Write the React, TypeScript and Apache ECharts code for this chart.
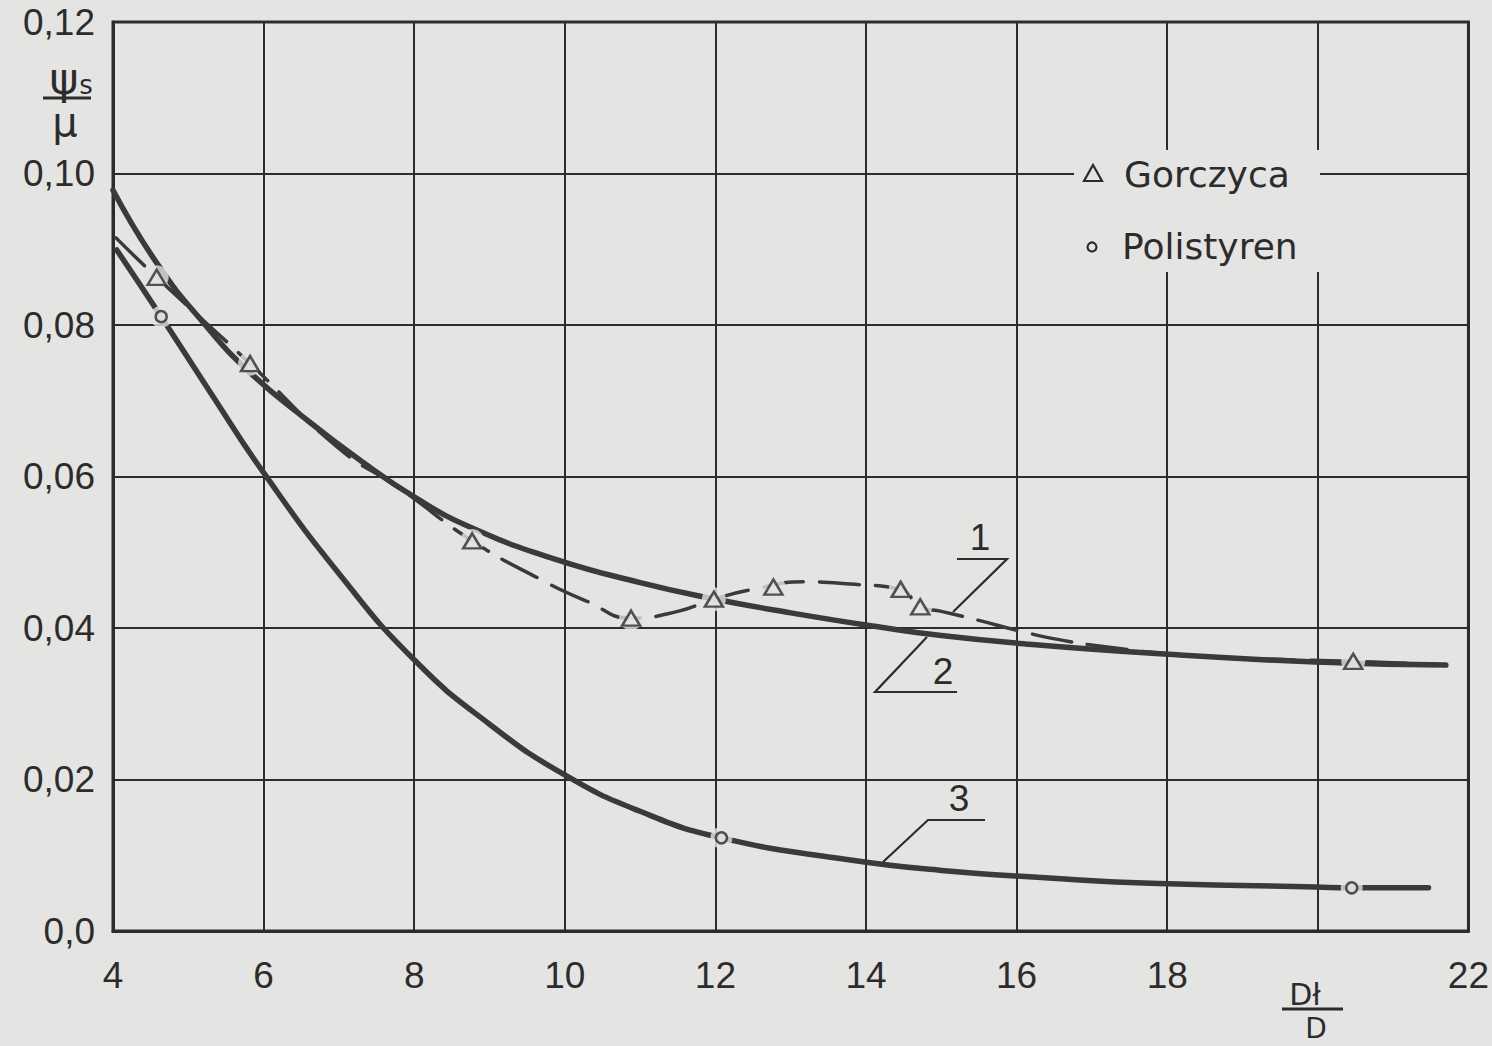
import React, { useEffect, useRef } from "react";
import * as echarts from "echarts";

// Axis ticks
const xTicks = [4, 6, 8, 10, 12, 14, 16, 18, 20, 22];
const xHiddenTick = 20;
const yTicks = [0, 0.02, 0.04, 0.06, 0.08, 0.1, 0.12];

// Measured points – Gorczyca (triangles)
const gorczycaPoints: [number, number][] = [
  [4.58, 0.0863],
  [5.82, 0.0749],
  [8.77, 0.0515],
  [10.88, 0.0413],
  [11.98, 0.0438],
  [12.77, 0.0454],
  [14.46, 0.0451],
  [14.72, 0.0428],
  [20.47, 0.0356],
];

// Measured points – Polistyren (circles)
const polistyrenPoints: [number, number][] = [
  [4.64, 0.0811],
  [12.08, 0.0123],
  [20.45, 0.0057],
];

// Curve 1 – course through the Gorczyca measurements (dashed)
const curve1: [number, number][] = [
  [4.04, 0.0915],
  [4.58, 0.0863],
  [5.82, 0.0749],
  [7.0, 0.0637],
  [7.8, 0.0585],
  [8.77, 0.0515],
  [9.7, 0.0463],
  [10.3, 0.0435],
  [10.88, 0.0413],
  [11.5, 0.0422],
  [11.98, 0.0438],
  [12.5, 0.0451],
  [13.2, 0.0461],
  [13.8, 0.0458],
  [14.46, 0.0451],
  [14.72, 0.0428],
  [15.0, 0.0422],
  [15.5, 0.041],
  [16.0, 0.0397],
  [16.6, 0.0384],
  [17.2, 0.0375],
  [18.0, 0.0366],
  [19.0, 0.036],
  [20.47, 0.0356],
  [21.7, 0.0351],
];

// Curve 2 – smoothed relation for Gorczyca
const curve2: [number, number][] = [
  [4.0, 0.0978],
  [4.6, 0.0879],
  [5.2, 0.0803],
  [5.8, 0.0739],
  [6.57, 0.0675],
  [7.3, 0.062],
  [8.0, 0.0573],
  [8.77, 0.0532],
  [9.9, 0.049],
  [11.0, 0.046],
  [11.9, 0.044],
  [13.0, 0.042],
  [14.2, 0.0401],
  [15.0, 0.039],
  [16.0, 0.038],
  [17.75, 0.0367],
  [19.97, 0.0355],
  [21.7, 0.0351],
];

// Curve 3 – Polistyren
const curve3: [number, number][] = [
  [4.05, 0.0899],
  [4.64, 0.0811],
  [5.3, 0.071],
  [6.0, 0.0605],
  [7.0, 0.0472],
  [8.0, 0.0358],
  [9.0, 0.0273],
  [10.0, 0.0206],
  [11.0, 0.0158],
  [12.08, 0.0123],
  [13.77, 0.0094],
  [15.0, 0.008],
  [16.43, 0.007],
  [17.5, 0.0064],
  [19.97, 0.0058],
  [20.45, 0.0057],
  [21.47, 0.0057],
];

const legendNames = ["Gorczyca", "Polistyren"];
const curveLabels = ["1", "2", "3"];

const PAPER = "#e4e4e2";
const INK = "#2c2c2c";
const CURVE = "#3a3a3a";
const FONT_NUM = "'Liberation Sans', Arial, sans-serif";
const FONT_TXT = "'DejaVu Sans', sans-serif";

const fmtY = (v: number) => (v === 0 ? "0,0" : v.toFixed(2).replace(".", ","));

export default function App() {
  const ref = useRef<HTMLDivElement>(null);

  useEffect(() => {
    document.body.style.margin = "0";
    document.body.style.background = PAPER;
    if (!ref.current) return;
    const chart = echarts.init(ref.current, null, { renderer: "svg" });

    const txt = (text: string, x: number, y: number, size: number, font = FONT_NUM, align = "center") => ({
      type: "text",
      z: 60,
      x,
      y,
      style: {
        text,
        fill: INK,
        font: `${size}px ${font}`,
        align,
        verticalAlign: "middle",
      },
    });
    const seg = (points: number[][], width = 2.2) => ({
      type: "polyline",
      z: 60,
      shape: { points },
      style: { stroke: INK, lineWidth: width, fill: "none" },
    });

    const curveSeries = (name: string, data: [number, number][], width: number, type: any) => ({
      type: "line",
      name,
      data,
      showSymbol: false,
      smooth: 0.5,
      z: 2,
      silent: true,
      lineStyle: { color: CURVE, width, type, cap: "round" },
    });

    chart.setOption({
      animation: false,
      backgroundColor: PAPER,
      grid: {
        left: 113,
        top: 22,
        width: 1357,
        height: 909,
        show: true,
        borderColor: INK,
        borderWidth: 3,
        backgroundColor: "transparent",
      },
      xAxis: {
        type: "value",
        min: xTicks[0],
        max: xTicks[xTicks.length - 1],
        interval: xTicks[1] - xTicks[0],
        axisLine: { show: true, lineStyle: { color: INK, width: 3 } },
        axisTick: { show: false },
        splitLine: { show: true, lineStyle: { color: INK, width: 2 } },
        axisLabel: {
          showMinLabel: true,
          showMaxLabel: true,
          margin: 26,
          fontSize: 37,
          fontFamily: FONT_NUM,
          color: INK,
          formatter: (v: number) => (v === xHiddenTick ? "" : String(v)),
        },
      },
      yAxis: {
        type: "value",
        min: yTicks[0],
        max: yTicks[yTicks.length - 1],
        interval: yTicks[1] - yTicks[0],
        axisLine: { show: true, lineStyle: { color: INK, width: 3 } },
        axisTick: { show: false },
        splitLine: { show: true, lineStyle: { color: INK, width: 2 } },
        axisLabel: {
          showMinLabel: true,
          showMaxLabel: true,
          margin: 18,
          fontSize: 37,
          fontFamily: FONT_NUM,
          color: INK,
          formatter: fmtY,
        },
      },
      series: [
        curveSeries("curve-1", curve1, 3.5, [40, 16]),
        curveSeries("curve-2", curve2, 5.5, "solid"),
        curveSeries("curve-3", curve3, 5.5, "solid"),
        {
          type: "scatter",
          name: "gap-g",
          data: gorczycaPoints,
          symbol: "circle",
          symbolSize: 24,
          z: 3,
          silent: true,
          itemStyle: { color: PAPER },
        },
        {
          type: "scatter",
          name: "gap-p",
          data: polistyrenPoints,
          symbol: "circle",
          symbolSize: 22,
          z: 3,
          silent: true,
          itemStyle: { color: PAPER },
        },
        {
          type: "scatter",
          name: legendNames[0],
          data: gorczycaPoints,
          symbol: "triangle",
          symbolSize: [18, 15],
          z: 4,
          silent: true,
          itemStyle: { color: PAPER, borderColor: INK, borderWidth: 2.5 },
        },
        {
          type: "scatter",
          name: legendNames[1],
          data: polistyrenPoints,
          symbol: "circle",
          symbolSize: 11,
          z: 4,
          silent: true,
          itemStyle: { color: PAPER, borderColor: INK, borderWidth: 2.5 },
        },
      ],
      graphic: [
        // legend panel
        {
          type: "rect",
          z: 50,
          shape: { x: 1074, y: 150, width: 246, height: 122 },
          style: { fill: PAPER },
        },
        {
          type: "polygon",
          z: 60,
          shape: { points: [[1084, 181], [1102, 181], [1093, 165]] },
          style: { fill: "none", stroke: INK, lineWidth: 2.2 },
        },
        txt(legendNames[0], 1124, 174, 36, FONT_TXT, "left"),
        {
          type: "circle",
          z: 60,
          shape: { cx: 1092, cy: 247, r: 4.5 },
          style: { fill: "none", stroke: INK, lineWidth: 2.2 },
        },
        txt(legendNames[1], 1122, 246, 36, FONT_TXT, "left"),
        // y-axis quantity ψs / μ
        txt("ψ", 64, 78, 44, FONT_TXT),
        txt("s", 86, 85, 26, FONT_TXT),
        seg([[43, 98], [91, 98]], 3),
        txt("μ", 65, 122, 40, FONT_TXT),
        // x-axis quantity Dł / D
        txt("Dł", 1305, 994, 30, FONT_TXT),
        seg([[1282, 1009], [1343, 1009]], 3),
        txt("D", 1316, 1028, 28, FONT_TXT),
        // curve labels with leaders
        txt(curveLabels[0], 980, 537, 37),
        seg([[957, 559], [1007, 559], [953, 612]]),
        txt(curveLabels[1], 943, 671, 37),
        seg([[927, 637], [875, 692], [957, 692]]),
        txt(curveLabels[2], 959, 798, 37),
        seg([[883, 862], [928, 820], [985, 820]]),
      ],
    });

    return () => chart.dispose();
  }, []);

  return (
    <div
      ref={ref}
      style={{ position: "absolute", left: 0, top: 0, width: 1492, height: 1046, background: PAPER }}
    />
  );
}
